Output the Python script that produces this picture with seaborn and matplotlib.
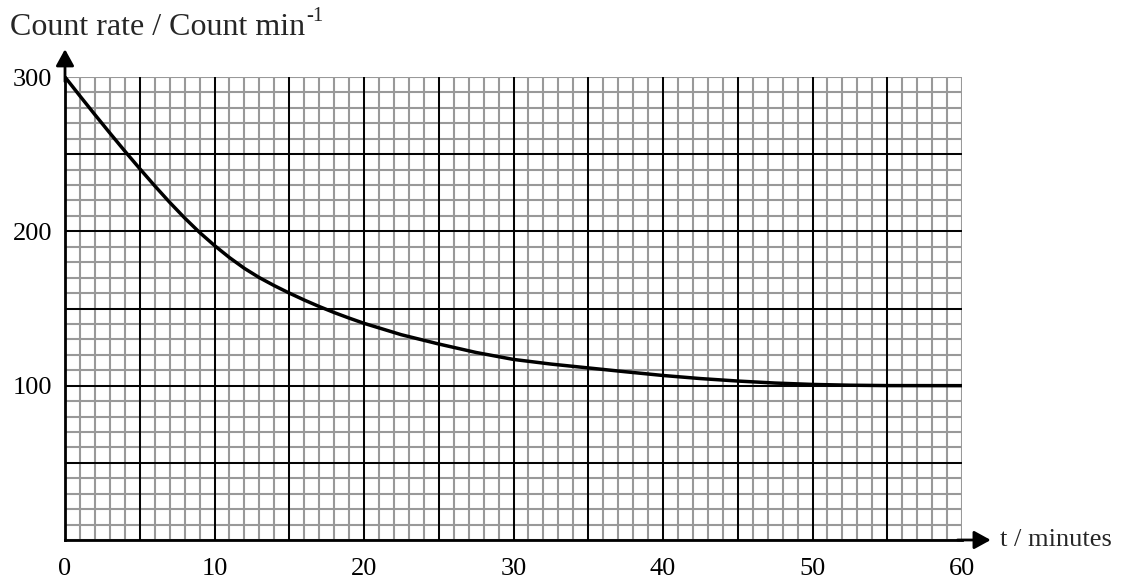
import numpy as np
import pandas as pd
import seaborn as sns
import matplotlib.pyplot as plt
from matplotlib.ticker import MultipleLocator

# values
t_minutes = [0, 1, 2, 3, 4, 5, 6, 7, 8, 9, 10, 11, 12, 13, 14, 15, 16, 17,
             18, 19, 20, 22.5, 25, 27.5, 30, 32.5, 35, 37.5, 40, 42.5, 45,
             47.5, 50, 52.5, 55, 60]
count_rate = [300, 287.7, 275.6, 263.7, 252, 240.6, 229.5, 218.8, 208.7,
              199.3, 190.8, 183, 176, 170, 164.8, 160, 155.5, 151.3, 147.4,
              143.8, 140.4, 133, 127, 121.5, 117, 114, 111.5, 109, 106.6,
              104.6, 103, 101.7, 100.8, 100.3, 100.05, 100]

x_ticks = [0, 10, 20, 30, 40, 50, 60]
y_ticks = [100, 200, 300]

df = pd.DataFrame({"t": t_minutes, "rate": count_rate})

sns.set_style("white")
plt.rcParams["font.family"] = ["Liberation Serif", "DejaVu Serif"]

fig = plt.figure(figsize=(11.21, 5.82), dpi=100)
ax = fig.add_axes([65 / 1121, 42 / 582, 897 / 1121, 463 / 582])

# graph-paper grid: grey every 1 min / 10 counts, black every 5 min / 50 counts
ax.set_xlim(0, 60)
ax.set_ylim(0, 300)
ax.set_xticks(x_ticks)
ax.set_yticks(y_ticks)
ax.xaxis.set_minor_locator(MultipleLocator(1))
ax.yaxis.set_minor_locator(MultipleLocator(10))
ax.grid(which="both", color="#999999", lw=1.5)
ax.set_axisbelow(True)
ax.vlines(np.arange(5, 60, 5), 0, 300, color="black", lw=1.4, zorder=1)
ax.hlines(np.arange(50, 300, 50), 0, 60, color="black", lw=1.4, zorder=1)

sns.lineplot(data=df, x="t", y="rate", ax=ax, color="black", lw=2.5, zorder=3)
ax.set_xlabel("")
ax.set_ylabel("")

for s in ["top", "right"]:
    ax.spines[s].set_visible(False)
for s in ["left", "bottom"]:
    ax.spines[s].set_color("black")
    ax.spines[s].set_linewidth(2)
    ax.spines[s].set_zorder(4)

ax.tick_params(which="both", length=0, labelsize=19, colors="black")
ax.tick_params(axis="x", pad=13)
ax.tick_params(axis="y", pad=9)

# axis arrows
arrow = dict(arrowstyle="-|>,head_length=1.0,head_width=0.55",
             color="black", lw=2, shrinkA=0, shrinkB=0)
ax.annotate("", xy=(1.032, 0), xytext=(0.995, 0), xycoords="axes fraction",
            arrowprops=arrow)
ax.annotate("", xy=(0, 1.06), xytext=(0, 0.99), xycoords="axes fraction",
            arrowprops=arrow)

ax.text(1.042, -0.014, "t / minutes", transform=ax.transAxes,
        fontsize=19, va="baseline", ha="left")

title = fig.text(10 / 1121, 1 - 35 / 582, "Count rate / Count min",
                 fontsize=23, va="baseline", ha="left")
ax.annotate("-1", xy=(1, 1), xycoords=title, xytext=(1, 4),
            textcoords="offset points", fontsize=15, va="top", ha="left")

fig.savefig("out.png", dpi=100)
